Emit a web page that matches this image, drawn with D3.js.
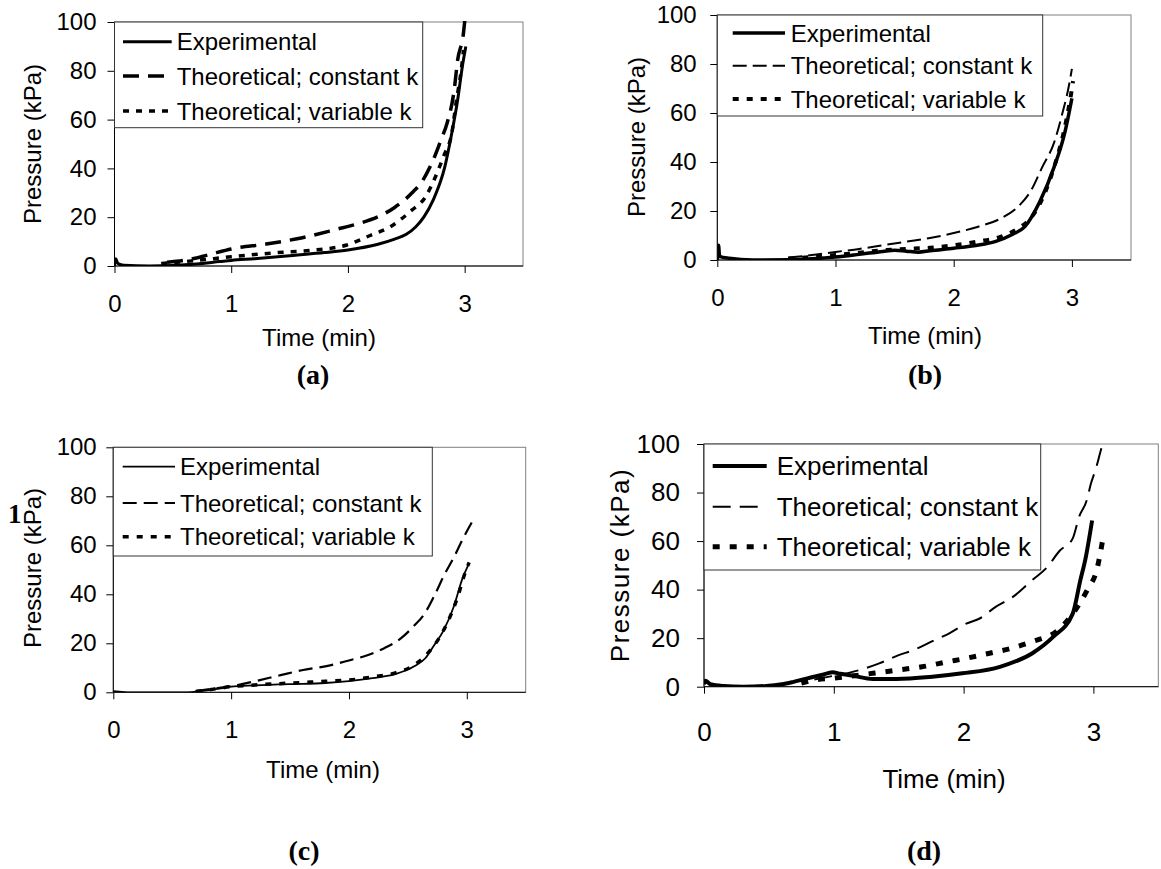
<!DOCTYPE html>
<html lang="en">
<head>
<meta charset="UTF-8">
<title>Pressure vs time</title>
<script src="https://d3js.org/d3.v7.min.js"></script>
<style>
  body { margin: 0; background: #fff; }
  svg text { font-family: "Liberation Sans", Arial, sans-serif; fill: #000; }
  .domain, .tick line { stroke: #000; }
</style>
</head>
<body>
<svg id="fig" width="1161" height="869"></svg>
<script>
// ---- data: [time (min), pressure (kPa)] ----
const seriesNames = ["Experimental", "Theoretical; constant k", "Theoretical; variable k"];
const xTicks = [0, 1, 2, 3];
const yTicks = [0, 20, 40, 60, 80, 100];

const expA = [[0,0],[0.01,3],[0.03,1],[0.08,0.3],[0.3,0],[0.5,0.2],[0.7,0.8],[0.9,1.8],[1.0,2.3],[1.2,3],[1.5,4.2],[1.8,5.5],[2.0,6.6],[2.25,8.8],[2.4,11],[2.5,13],[2.58,16],[2.65,20],[2.73,27],[2.83,40.6],[2.89,54.5],[2.94,68],[2.98,81.7],[3.01,90]];
const constA = [[0.45,1.5],[0.62,2.5],[0.8,4.5],[1.0,7],[1.3,9],[1.6,11.5],[1.9,15],[2.1,17.5],[2.25,20],[2.4,24],[2.55,30],[2.64,35],[2.73,43.4],[2.8,52],[2.85,58.6],[2.91,72],[2.94,84.4],[2.99,95.5],[3.0,100],[3.02,110]];
const varA = [[0.4,1],[0.6,1.8],[0.85,3],[1.0,3.8],[1.16,4.5],[1.4,5.5],[1.7,6.5],[1.99,8.6],[2.19,12.5],[2.36,16],[2.55,23],[2.66,28],[2.75,36.6],[2.82,45],[2.89,54.5],[2.93,68],[2.97,80],[2.99,88.5]];

const expB = [[0,0],[0.01,6],[0.02,1.5],[0.1,0.7],[0.3,0],[0.6,0.1],[0.8,0.5],[1.0,1.2],[1.2,2.3],[1.4,3.5],[1.5,4],[1.6,3.6],[1.7,3.2],[1.8,3.8],[2.0,4.8],[2.2,6],[2.35,7.5],[2.5,10.5],[2.6,13.5],[2.73,24],[2.85,38],[2.94,52],[3.0,66]];
const constB = [[0.6,1],[0.8,2],[1.0,3.3],[1.2,4.5],[1.4,6],[1.6,7.5],[1.8,9],[2.0,11],[2.2,13.5],[2.4,17],[2.55,22],[2.65,28],[2.75,38],[2.85,48],[2.92,60],[2.97,70],[3.0,78]];
const varB = [[0.6,0.5],[0.8,1.2],[1.0,2],[1.2,3],[1.4,4],[1.6,4.5],[1.8,5],[2.0,6],[2.2,7.5],[2.4,9.5],[2.55,13],[2.65,17],[2.75,25],[2.85,38],[2.93,52],[2.98,64],[3.01,73]];

const expC = [[0,0.5],[0.05,0.3],[0.15,0],[0.6,0],[0.75,0.5],[0.9,1.5],[1.0,2.3],[1.2,2.8],[1.4,3.2],[1.6,3.4],[1.8,3.8],[2.0,4.6],[2.2,5.8],[2.4,7.5],[2.55,10.5],[2.65,14],[2.72,19],[2.8,25],[2.89,35],[2.96,46],[3.02,52.6]];
const constC = [[0.7,0.5],[0.85,1.5],[1.0,2.5],[1.2,4.5],[1.42,7],[1.6,9],[1.84,11],[2.0,13],[2.15,15],[2.3,18],[2.44,22],[2.55,27],[2.64,32],[2.72,39],[2.81,48],[2.9,56],[2.96,62],[3.05,70]];
const varC = [[0.7,0.3],[0.85,1.3],[1.0,2.3],[1.2,3],[1.4,3.5],[1.6,4],[1.8,4.5],[2.0,5],[2.2,6.3],[2.4,8],[2.55,11],[2.65,15],[2.75,21],[2.85,30],[2.93,40],[2.98,48],[3.02,53]];

const expD = [[0,1],[0.01,2.5],[0.05,1],[0.15,0.3],[0.3,0],[0.48,0.3],[0.6,1],[0.69,2],[0.84,4],[0.95,5.5],[0.99,6],[1.05,5.3],[1.15,4.5],[1.3,3.2],[1.48,3.2],[1.74,4],[1.99,5.5],[2.28,8.2],[2.53,13.8],[2.69,20.5],[2.84,30],[2.9,44],[2.94,53],[2.99,68.5]];
const constD = [[0.85,3],[1.0,4.5],[1.1,5.5],[1.35,9.6],[1.5,13],[1.61,15],[1.77,19],[1.89,22],[2.02,26],[2.12,28],[2.25,33],[2.38,37],[2.53,44],[2.64,49],[2.74,56],[2.84,61],[2.89,70],[2.95,77],[2.98,83.5],[3.02,90],[3.05,96],[3.08,102]];
const varD = [[0.75,1.5],[0.84,2.7],[1.0,3.5],[1.3,5.5],[1.51,7],[1.68,8.2],[1.87,10.2],[2.02,11.7],[2.2,13.8],[2.38,16],[2.53,18.6],[2.72,23],[2.84,30],[2.95,39.6],[3.03,49],[3.07,60]];

// ---- layout of the four panels ----
const panels = [
  { tag: "(a)", data: [expA, constA, varA],
    left: 114.5, right: 523, top: 22, bottom: 266, font: 24,
    widths: [3, 3.5, 3.5], dashes: [null, "16,9", "6,7"],
    legend: { right: 422.7, bottom: 127.7, rows: [41.7, 76, 111], x0: 123, x1: 171.7, tx: 176.7 },
    xLabelOff: 38, yLabelGap: 18, yTitle: [32.5, 144], titleX: 319, titleY: 346, tagX: 313, tagY: 384 },
  { tag: "(b)", data: [expB, constB, varB],
    left: 717.3, right: 1131, top: 15, bottom: 260, font: 24,
    widths: [3.5, 2, 4], dashes: [null, "14,6", "6,8"],
    legend: { right: 1042.7, bottom: 116, rows: [33, 65.7, 99], x0: 732.7, x1: 785, tx: 790.7 },
    xLabelOff: 38, yLabelGap: 20.6, yTitle: [636.7, 137], titleX: 925, titleY: 344, tagX: 925, tagY: 384 },
  { tag: "(c)", data: [expC, constC, varC],
    left: 113.3, right: 525.7, top: 447.3, bottom: 692.3, font: 24,
    widths: [1.8, 2.2, 3.5], dashes: [null, "14,7", "6,8"],
    legend: { right: 432.3, bottom: 556, rows: [466.7, 503, 536.7], x0: 122.7, x1: 175, tx: 180 },
    xLabelOff: 37.7, yLabelGap: 16.6, yTitle: [32.5, 568], titleX: 323, titleY: 778, tagX: 304, tagY: 860 },
  { tag: "(d)", data: [expD, constD, varD],
    left: 704, right: 1158.3, top: 444, bottom: 686.7, font: 26,
    widths: [4, 2, 5], dashes: [null, "18,9", "7,10"],
    legend: { right: 1040.7, bottom: 570, rows: [466, 506.7, 546.7], x0: 712.7, x1: 766.7, tx: 776.7 },
    xLabelOff: 45.3, yLabelGap: 24, yTitle: [620, 565], titleX: 944, titleY: 788, tagX: 924, tagY: 860, spaced: true }
];

const svg = d3.select("#fig");
const tickLen = 7;

panels.forEach((p, i) => {
  const x = d3.scaleLinear().domain([0, 3.5]).range([p.left, p.right]);
  const y = d3.scaleLinear().domain([0, 100]).range([p.bottom, p.top]);
  const g = svg.append("g");

  // plot area frame (grey top/right)
  g.append("rect")
    .attr("x", p.left).attr("y", p.top)
    .attr("width", p.right - p.left).attr("height", p.bottom - p.top)
    .attr("fill", "none").attr("stroke", "#808080").attr("stroke-width", 1);

  const clipId = "clip" + i;
  g.append("clipPath").attr("id", clipId)
    .append("rect")
    .attr("x", p.left).attr("y", p.top - 1)
    .attr("width", p.right - p.left).attr("height", p.bottom - p.top + 1);

  // axes
  g.append("g")
    .attr("transform", `translate(0,${p.bottom})`)
    .call(d3.axisBottom(x).tickValues(xTicks).tickSize(tickLen)
      .tickPadding(p.xLabelOff - tickLen - 0.36 * p.font).tickFormat(d3.format("d")))
    .call(a => a.selectAll("text").style("font-size", p.font + "px"))
    .call(a => a.select(".domain").attr("d", `M${p.left},0H${p.right}`));

  g.append("g")
    .attr("transform", `translate(${p.left},0)`)
    .call(d3.axisLeft(y).tickValues(yTicks).tickSize(tickLen)
      .tickPadding(p.yLabelGap - tickLen).tickFormat(d3.format("d")))
    .call(a => a.selectAll("text").style("font-size", p.font + "px"))
    .call(a => a.select(".domain").attr("d", `M0,${p.bottom}V${p.top}`));

  // curves
  const line = d3.line().x(d => x(d[0])).y(d => y(d[1])).curve(d3.curveMonotoneX);
  const curves = g.append("g").attr("clip-path", `url(#${clipId})`);
  p.data.forEach((s, k) => {
    curves.append("path")
      .datum(s)
      .attr("d", line)
      .attr("fill", "none")
      .attr("stroke", "#000")
      .attr("stroke-width", p.widths[k])
      .attr("stroke-linejoin", "round")
      .attr("stroke-dasharray", p.dashes[k]);
  });

  // legend
  const L = p.legend;
  g.append("rect")
    .attr("x", p.left).attr("y", p.top)
    .attr("width", L.right - p.left).attr("height", L.bottom - p.top)
    .attr("fill", "#fff").attr("stroke", "#333").attr("stroke-width", 1);
  seriesNames.forEach((name, k) => {
    g.append("line")
      .attr("x1", L.x0).attr("x2", L.x1)
      .attr("y1", L.rows[k]).attr("y2", L.rows[k])
      .attr("stroke", "#000")
      .attr("stroke-width", p.widths[k])
      .attr("stroke-dasharray", p.dashes[k]);
    g.append("text")
      .attr("x", L.tx).attr("y", L.rows[k])
      .attr("dy", "0.36em")
      .style("font-size", p.font + "px")
      .text(name);
  });

  // axis titles
  g.append("text")
    .attr("transform", `translate(${p.yTitle[0]},${p.yTitle[1]}) rotate(-90)`)
    .attr("text-anchor", "middle")
    .attr("dy", "0.36em")
    .style("font-size", p.font + "px")
    .style("letter-spacing", p.spaced ? "1.5px" : null)
    .text("Pressure (kPa)");

  g.append("text")
    .attr("x", p.titleX).attr("y", p.titleY)
    .attr("text-anchor", "middle")
    .style("font-size", p.font + "px")
    .text("Time (min)");

  g.append("text")
    .attr("x", p.tagX).attr("y", p.tagY)
    .attr("text-anchor", "middle")
    .style("font-family", "'Liberation Serif', 'Times New Roman', serif")
    .style("font-weight", "bold")
    .style("font-size", "28px")
    .text(p.tag);
});

// stray character to the left of panel (c)
svg.append("text")
  .attr("x", 8).attr("y", 523)
  .style("font-family", "'Liberation Serif', 'Times New Roman', serif")
  .style("font-weight", "bold")
  .style("font-size", "27px")
  .text("1");
</script>
</body>
</html>
